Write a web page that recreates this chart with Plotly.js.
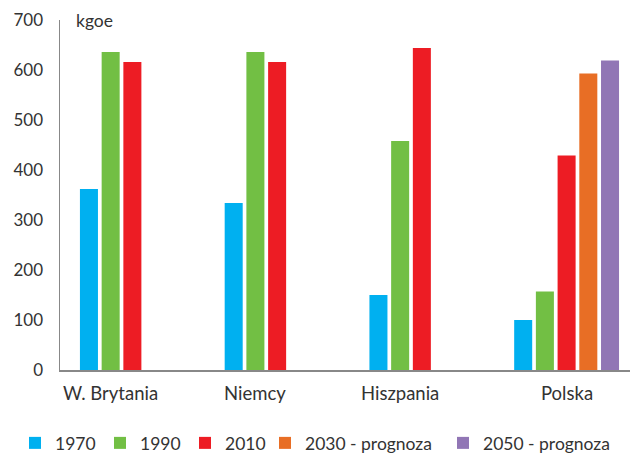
<!DOCTYPE html>
<html><head><meta charset="utf-8">
<script src="https://cdn.plot.ly/plotly-3.0.1.min.js"></script>
<style>html,body{margin:0;padding:0;background:#fff}#c{width:630px;height:453px}</style>
</head><body><div id="c"></div>
<script>
const categories = ["W. Brytania", "Niemcy", "Hiszpania", "Polska"];
const seriesNames = ["1970", "1990", "2010", "2030 - prognoza", "2050 - prognoza"];
const v1970 = [362, 334, 150, 100];
const v1990 = [636, 636, 458, 157];
const v2010 = [616, 616, 644, 429];
const v2030 = [null, null, null, 593];
const v2050 = [null, null, null, 619];
const yTicks = [0, 100, 200, 300, 400, 500, 600, 700];
const unitLabel = "kgoe";

const values = [v1970, v1990, v2010, v2030, v2050];
const colors = ["#00B0F0", "#72BF44", "#ED1C24", "#E86E25", "#9176B5"];
const legendLeft = [15, 100, 185, 265, 443];   // px position of each legend box
const font = "Lato, 'Open Sans', sans-serif";
const W = 630, H = 453;

const legendIds = values.map((_, i) => i === 0 ? "legend" : "legend" + (i + 1));
const traces = values.map((vals, i) => ({
  type: "bar", name: seriesNames[i], x: categories, y: vals,
  marker: {color: colors[i]}, hoverinfo: "none", legend: legendIds[i]
}));

const annotations = categories.map((c, ci) => {
  const n = values.filter(v => v[ci] !== null).length;
  return {x: ci - 0.375 + 0.075 * n, y: 0, xref: "x", yref: "y", text: c, showarrow: false,
    yanchor: "top", yshift: -10, font: {family: font, size: 18.5, color: "#333"}};
});
annotations.push({x: 0, y: 1, xref: "paper", yref: "paper", xanchor: "left", yanchor: "middle",
  xshift: 14, text: unitLabel, showarrow: false, font: {family: font, size: 17.5, color: "#333"}});

const layout = {
  width: W, height: H,
  margin: {l: 60, r: 0, t: 20, b: 83},
  paper_bgcolor: "#fff", plot_bgcolor: "#fff",
  barmode: "group", bargap: 0.25, bargroupgap: 0.17,
  font: {family: font, color: "#333"},
  xaxis: {type: "category", range: [-0.5, 3.438], showticklabels: false, showgrid: false,
    zeroline: false, showline: true, linecolor: "#888", linewidth: 1.5, ticks: ""},
  yaxis: {range: [0, 700], tickvals: yTicks, showgrid: false, zeroline: false,
    showline: true, linecolor: "#888", linewidth: 1.5, ticks: "", ticklabelstandoff: 12,
    tickfont: {family: font, size: 17, color: "#333"}},
  annotations: annotations,
  showlegend: true
};
legendIds.forEach((id, i) => {
  layout[id] = {orientation: "h", xref: "container", yref: "container",
    x: legendLeft[i] / W, xanchor: "left", y: (H - 443) / H, yanchor: "middle",
    font: {family: font, size: 17.5, color: "#333"}, itemwidth: 30, bgcolor: "rgba(0,0,0,0)"};
});

Plotly.newPlot("c", traces, layout, {staticPlot: true});
</script></body></html>
